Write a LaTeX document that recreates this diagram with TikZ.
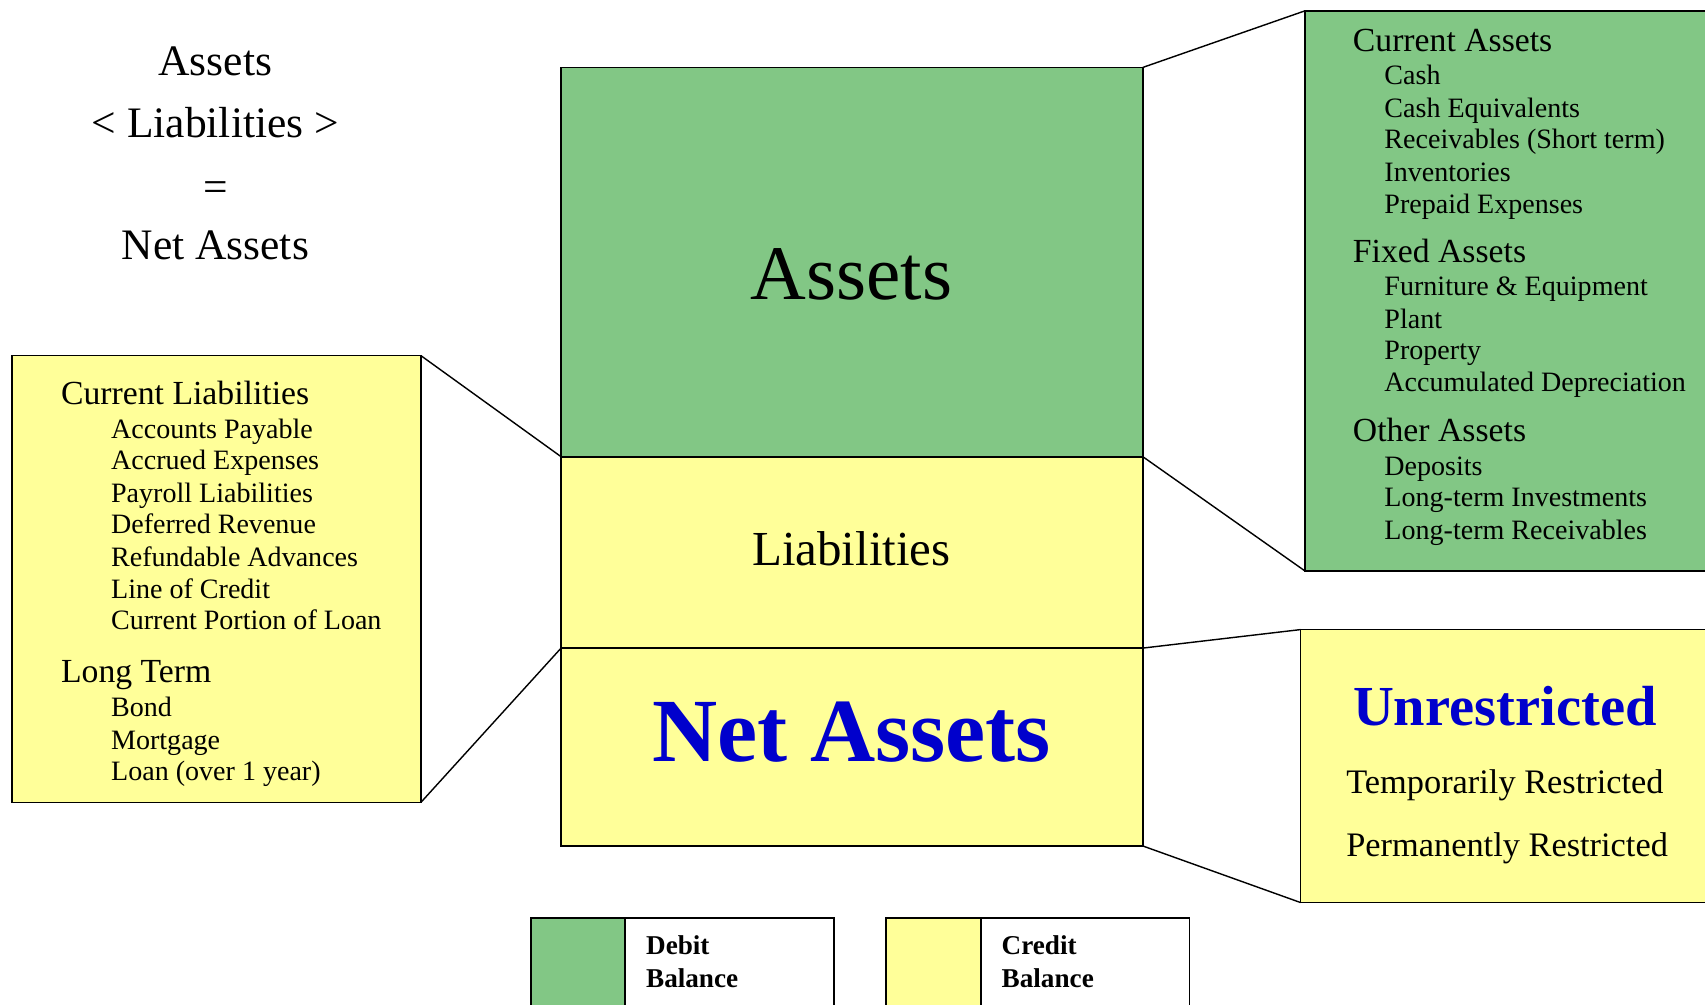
\documentclass[tikz,border=0pt]{standalone}
\usepackage{fontspec}
\setmainfont{Liberation Serif}
\usepackage{xcolor}
\usetikzlibrary{positioning}

\definecolor{debitgreen}{RGB}{130,199,133}
\definecolor{credityellow}{RGB}{255,255,153}
\definecolor{netblue}{RGB}{0,0,204}

\tikzset{
    block/.style={draw, line width=1.6pt, anchor=north west, inner sep=0pt, outer sep=0pt},
    link/.style={line width=1.3pt},
    eqline/.style={anchor=base, inner sep=0pt, font=\fontsize{40}{48}\selectfont},
    head/.style={anchor=base west, inner sep=0pt, font=\fontsize{31}{37}\selectfont},
    item/.style={anchor=base west, inner sep=0pt, font=\fontsize{25.8}{30}\selectfont},
    keytext/.style={anchor=base west, inner sep=0pt, font=\fontsize{25}{30}\selectfont\bfseries}
}

\begin{document}
\begin{tikzpicture}[x=1pt, y=-1pt]
    \clip (0,0) rectangle (1568,924);

    % Equation
    \node[eqline] (eqassets) at (198,69) {Assets};
    \node[eqline] (eqliab) at (198,126) {< Liabilities >};
    \node[eqline] (eqsign) at (198,185) {=};
    \node[eqline] (eqnet) at (198,239) {Net Assets};

    % Balance sheet column
    \node[block, fill=debitgreen, minimum width=535pt, minimum height=358pt] (assets) at (516,62) {};
    \node[block, fill=credityellow, minimum width=535pt, minimum height=176pt] (liab) at (516,420) {};
    \node[block, fill=credityellow, minimum width=535pt, minimum height=182pt] (net) at (516,596) {};
    \node[anchor=base, font=\fontsize{71}{85}\selectfont] (assetstitle) at (783,275) {Assets};
    \node[anchor=base, font=\fontsize{45}{54}\selectfont] (liabtitle) at (783,520) {Liabilities};
    \node[anchor=base, font=\fontsize{83}{100}\selectfont\bfseries, text=netblue] (nettitle) at (783,700) {Net Assets};

    % Asset accounts
    \node[block, fill=debitgreen, minimum width=380pt, minimum height=515pt] (assetlist) at (1200,10) {};
    \node[head] (curassets) at (1244,47) {Current Assets};
    \node[item] (cash) at (1273,78) {Cash};
    \node[item] (cashequiv) at (1273,108) {Cash Equivalents};
    \node[item] (receiv) at (1273,137) {Receivables (Short term)};
    \node[item] (invent) at (1273,167) {Inventories};
    \node[item] (prepaid) at (1273,196) {Prepaid Expenses};
    \node[head] (fixassets) at (1244,241) {Fixed Assets};
    \node[item] (furniture) at (1273,272) {Furniture \& Equipment};
    \node[item] (plant) at (1273,302) {Plant};
    \node[item] (property) at (1273,331) {Property};
    \node[item] (accdep) at (1273,360) {Accumulated Depreciation};
    \node[head] (othassets) at (1244,406) {Other Assets};
    \node[item] (deposits) at (1273,437) {Deposits};
    \node[item] (ltinvest) at (1273,466) {Long-term Investments};
    \node[item] (ltreceiv) at (1273,496) {Long-term Receivables};

    % Liability accounts
    \node[block, fill=credityellow, minimum width=376pt, minimum height=411pt] (liablist) at (11,327) {};
    \node[head] (curliab) at (56,372) {Current Liabilities};
    \node[item] (payable) at (102,403) {Accounts Payable};
    \node[item] (accrued) at (102,432) {Accrued Expenses};
    \node[item] (payroll) at (102,462) {Payroll Liabilities};
    \node[item] (deferred) at (102,491) {Deferred Revenue};
    \node[item] (refund) at (102,521) {Refundable Advances};
    \node[item] (credit) at (102,550) {Line of Credit};
    \node[item] (curloan) at (102,579) {Current Portion of Loan};
    \node[head] (longterm) at (56,628) {Long Term};
    \node[item] (bond) at (102,659) {Bond};
    \node[item] (mortgage) at (102,689) {Mortgage};
    \node[item] (loan) at (102,718) {Loan (over 1 year)};

    % Net asset classes
    \node[block, fill=credityellow, minimum width=384pt, minimum height=251pt] (netlist) at (1196,579) {};
    \node[anchor=base, font=\fontsize{52}{62}\selectfont\bfseries, text=netblue] (unrestr) at (1384,667) {Unrestricted};
    \node[anchor=base, font=\fontsize{31.6}{37}\selectfont] (temprestr) at (1384,730) {Temporarily Restricted};
    \node[anchor=base, font=\fontsize{31.6}{37}\selectfont] (permrestr) at (1386,788) {Permanently Restricted};

    % Zoom lines
    \draw[link] (assets.north east) -- (assetlist.north west);
    \draw[link] (assets.south east) -- (assetlist.south west);
    \draw[link] (liablist.north east) -- (liab.north west);
    \draw[link] (liablist.south east) -- (net.north west);
    \draw[link] (net.north east) -- (netlist.north west);
    \draw[link] (net.south east) -- (netlist.south west);

    % Legend
    \node[block, fill=debitgreen, minimum width=87pt, minimum height=95pt] (debitkey) at (488,844) {};
    \node[block, fill=white, minimum width=192pt, minimum height=95pt, right=0pt of debitkey] (debitbox) {};
    \node[keytext] (debitword) at (594,878) {Debit};
    \node[keytext] (debitbal) at (594,908) {Balance};
    \node[block, fill=credityellow, minimum width=87pt, minimum height=95pt] (creditkey) at (815,844) {};
    \node[block, fill=white, minimum width=192pt, minimum height=95pt, right=0pt of creditkey] (creditbox) {};
    \node[keytext] (creditword) at (921,878) {Credit};
    \node[keytext] (creditbal) at (921,908) {Balance};
\end{tikzpicture}
\end{document}
